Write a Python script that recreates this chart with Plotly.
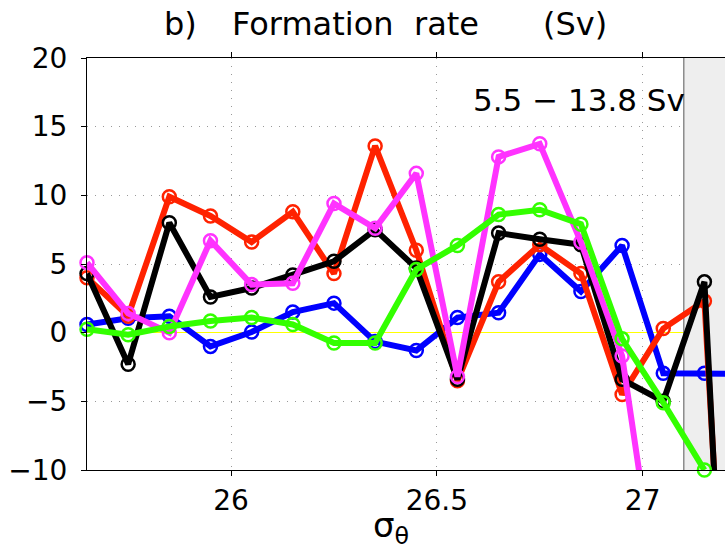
import plotly.graph_objects as go

# density classes (sigma_theta)
sigma = [25.65, 25.75, 25.85, 25.95, 26.05, 26.15, 26.25, 26.35, 26.45,
         26.55, 26.65, 26.75, 26.85, 26.95, 27.05, 27.15, 27.25]

# formation rate series (Sv)
red = [4.0, 1.2, 9.9, 8.5, 6.6, 8.8, 4.3, 13.6, 6.0, -3.5, 3.7, 6.4, 4.3, -4.5, 0.3, 2.3, -50]
black = [4.3, -2.3, 8.0, 2.6, 3.25, 4.2, 5.2, 7.5, 4.7, -3.4, 7.25, 6.8, 6.4, -3.4, -5.0, 3.7, -55]
magenta = [5.1, 1.4, 0.0, 6.7, 3.5, 3.6, 9.4, 7.6, 11.6, -3.2, 12.8, 13.75, 6.6, -1.7, -22]
blue = [0.6, 1.05, 1.2, -1.0, 0.05, 1.5, 2.15, -0.65, -1.3, 1.1, 1.45, 5.7, 3.0, 6.35, -2.95, -2.95, -3.0]
green = [0.25, -0.15, 0.45, 0.85, 1.1, 0.6, -0.75, -0.75, 4.6, 6.35, 8.6, 8.95, 7.9, -0.45, -5.1, -10.0]

xticks = [26, 26.5, 27]
yticks = [-10, -5, 0, 5, 10, 15, 20]
x_range = [25.65, 27.2]
y_range = [-10, 20]
shade_start = 27.1

W, H = 725, 555
L, R, T, B = 87, 0, 58, 84.5
FONT = "DejaVu Sans"

series = [("blue", blue, "#0000ff"), ("red", red, "#ff2200"), ("black", black, "#000000"),
          ("magenta", magenta, "#ff33ff"), ("green", green, "#33ff00")]

fig = go.Figure()
for name, vals, col in series:
    fig.add_trace(go.Scatter(
        x=sigma[:len(vals)], y=vals, mode="lines+markers", name=name,
        line=dict(color=col, width=6),
        marker=dict(symbol="circle-open", size=13, color=col, line=dict(width=2.5, color=col)),
        cliponaxis=False, showlegend=False))

fig.add_shape(type="rect", xref="x", yref="y", x0=shade_start, x1=x_range[1] + 0.2,
              y0=y_range[0], y1=y_range[1], fillcolor="#eeeeee", line=dict(width=0), layer="between")
fig.add_shape(type="line", xref="x", yref="y", x0=shade_start, x1=shade_start,
              y0=y_range[0], y1=y_range[1], line=dict(color="#555555", width=1), layer="between")


def px2x(px):
    return (px - L) / (W - L - R)


def py2y(py):
    return (H - B - py) / (H - B - T)


for txt, px in [("b)", 162), ("Formation", 230), ("rate", 412), ("(Sv)", 541)]:
    fig.add_annotation(text=txt, x=px2x(px), y=py2y(24), xref="paper", yref="paper",
                       xanchor="left", yanchor="middle", showarrow=False,
                       font=dict(family=FONT, size=32, color="black"))

fig.add_annotation(text="5.5 \u2212 13.8 Sv", x=px2x(471), y=py2y(100), xref="paper", yref="paper",
                   xanchor="left", yanchor="middle", showarrow=False,
                   font=dict(family=FONT, size=31, color="black"))

fig.add_annotation(text="\u03c3<sub>\u03b8</sub>", x=px2x(391), y=py2y(528), xref="paper", yref="paper",
                   xanchor="center", yanchor="middle", showarrow=False,
                   font=dict(family=FONT, size=34, color="black"))

fig.update_xaxes(range=x_range, tickvals=xticks, ticktext=[str(v) for v in xticks],
                 showline=True, linecolor="black", linewidth=1, mirror="ticks",
                 ticks="outside", ticklen=5, tickcolor="black", tickwidth=1,
                 showgrid=True, gridcolor="#999999", gridwidth=1, griddash="1px,7px",
                 zeroline=False, tickfont=dict(family=FONT, size=28, color="black"),
                 ticklabelstandoff=0)
fig.update_yaxes(range=y_range, tickvals=yticks, ticktext=["\u221210", "\u22125", "0", "5", "10", "15", "20"],
                 showline=True, linecolor="black", linewidth=1, mirror=False,
                 ticks="outside", ticklen=5, tickcolor="black", tickwidth=1,
                 showgrid=True, gridcolor="#999999", gridwidth=1, griddash="1px,7px",
                 zeroline=True, zerolinecolor="#ffff00", zerolinewidth=1,
                 tickfont=dict(family=FONT, size=28, color="black"),
                 ticklabelstandoff=8)

fig.update_layout(width=W, height=H, margin=dict(l=L, r=R, t=T, b=B, pad=0),
                  paper_bgcolor="white", plot_bgcolor="white", showlegend=False)

fig.write_html("out.html")
